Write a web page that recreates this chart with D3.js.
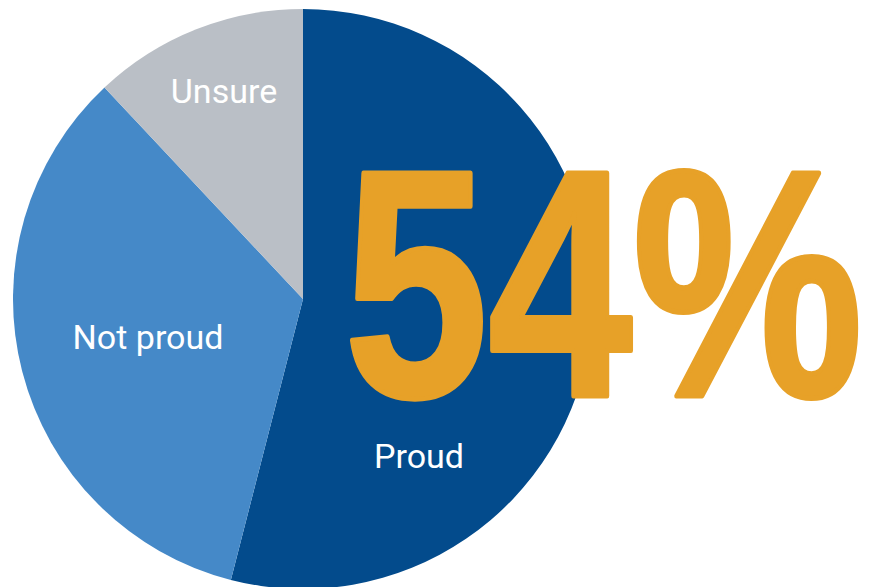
<!DOCTYPE html>
<html>
<head>
<meta charset="utf-8">
<script src="https://cdn.jsdelivr.net/npm/d3@7"></script>
<style>
html,body{margin:0;padding:0;background:#fff;}
svg{display:block;}
</style>
</head>
<body>
<svg id="chart" width="869" height="587"></svg>
<script>
const categories = ["Proud", "Not proud", "Unsure"];
const values = [54, 34, 12];
const colors = ["#034b8c", "#4589c8", "#babfc6"];
const labelPos = [[419, 468], [148, 349], [224, 103]];
const headline = "54%";

const svg = d3.select("#chart");
const cx = 303, cy = 299, r = 290;
const data = categories.map((c, i) => ({cat: c, value: values[i], color: colors[i], lp: labelPos[i]}));

const pie = d3.pie().value(d => d.value).sort(null);
const arc = d3.arc().innerRadius(0).outerRadius(r);

const g = svg.append("g").attr("transform", `translate(${cx},${cy})`);
g.selectAll("path").data(pie(data)).join("path")
  .attr("d", arc)
  .attr("fill", d => d.data.color);

svg.selectAll("text.lbl").data(data).join("text")
  .attr("class", "lbl")
  .attr("x", d => d.lp[0])
  .attr("y", d => d.lp[1])
  .attr("text-anchor", "middle")
  .attr("fill", "#ffffff")
  .style("font-family", "Roboto, 'Liberation Sans Narrow', sans-serif")
  .style("font-size", "34px")
  .text(d => d.cat);

svg.append("text")
  .attr("x", 344)
  .attr("y", 396)
  .attr("fill", "#e7a128")
  .attr("stroke", "#e7a128")
  .attr("stroke-width", 5)
  .attr("stroke-linejoin", "round")
  .attr("textLength", 519)
  .attr("lengthAdjust", "spacingAndGlyphs")
  .style("font-family", "'Liberation Sans', Arial, sans-serif")
  .style("font-weight", "bold")
  .style("font-size", "324px")
  .text(headline);
</script>
</body>
</html>
